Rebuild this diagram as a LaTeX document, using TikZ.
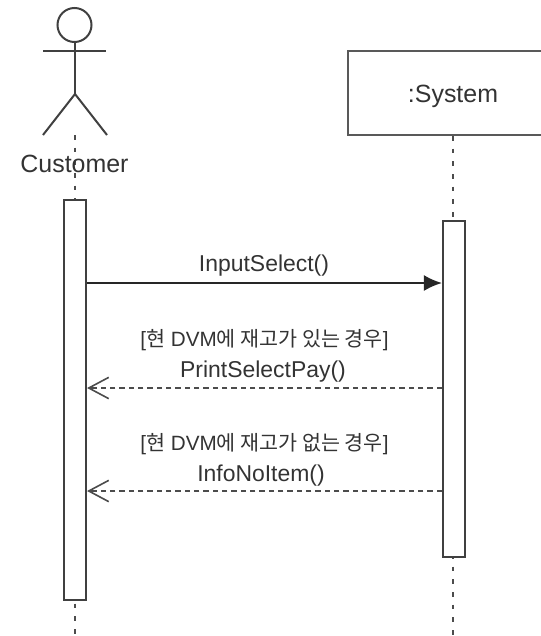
\documentclass[tikz,border=0pt]{standalone}
\usepackage{fontspec}
\setmainfont{Liberation Sans}
\newfontfamily\cjk{Noto Sans CJK KR}
\usetikzlibrary{arrows.meta}
\tikzset{
  lifeline/.style={line width=2pt,dash pattern=on 3.5pt off 6pt,black!70},
  activation/.style={draw=black!75,fill=white,line width=1.6pt,inner sep=0pt,anchor=north},
  namelabel/.style={font=\fontsize{18.7pt}{20pt}\selectfont,text=black!80},
  msglabel/.style={font=\fontsize{17.2pt}{19pt}\selectfont,text=black!80},
  guard/.style={font=\fontsize{15.5pt}{17pt}\selectfont,text=black!80},
  sync/.style={line width=1.5pt,black!85,-{Latex[length=13.5pt,width=12pt]}},
  reply/.style={line width=1.2pt,black!70,dash pattern=on 4pt off 3pt,-{Straight Barb[length=15pt,width=16pt]}}
}
\begin{document}
\begin{tikzpicture}[x=0.75pt,y=-0.75pt,line width=1.5pt,black!75]
\useasboundingbox (0,0) rectangle (541,636);
  % lifelines
  \coordinate (custtop) at (75,135);
  \coordinate (custend) at (75,636);
  \coordinate (systop) at (453,136);
  \coordinate (sysend) at (453,636);
  \draw[lifeline] (custtop) -- (custend);
  \draw[lifeline] (systop) -- (sysend);
  % actor
  \coordinate (head) at (74.5,25);
  \coordinate (neck) at (75,42);
  \coordinate (hip) at (75,94);
  \coordinate (armL) at (43,51);
  \coordinate (armR) at (106,51);
  \coordinate (footL) at (43,135);
  \coordinate (footR) at (107,135);
  \draw (head) circle (17);
  \draw (neck) -- (hip);
  \draw[line width=2pt] (armL) -- (armR);
  \draw (footL) -- (hip) -- (footR);
  \node[namelabel,inner sep=0pt] (customer) at (74.5,164) {Customer};
  % system box
  \node[namelabel,draw=black!65,fill=white,minimum width=157.5pt,minimum height=63pt,inner sep=0pt,
        text height=14pt,text depth=0pt,line width=2.2pt] (system) at (453,93) {:System};
  % activations
  \node[activation,minimum width=16.5pt,minimum height=300.5pt] (custbar) at (75,198.5) {};
  \node[activation,minimum width=16.5pt,minimum height=252.5pt] (sysbar) at (454,219.5) {};
  % messages
  \coordinate (m1a) at (custbar.east |- 0,283);
  \coordinate (m1b) at (sysbar.west |- 0,283);
  \coordinate (m2a) at (sysbar.west |- 0,388);
  \coordinate (m2b) at (custbar.east |- 0,388);
  \coordinate (m3a) at (sysbar.west |- 0,491);
  \coordinate (m3b) at (custbar.east |- 0,491);
  \draw[sync] (m1a) -- (m1b);
  \draw[reply] (m2a) -- (m2b);
  \draw[reply] (m3a) -- (m3b);
  \node[msglabel] (msg1) at (264,266) {InputSelect()};
  \node[guard] (guard2) at (264.5,340) {[{\cjk 현} DVM{\cjk 에 재고가 있는 경우}]};
  \node[msglabel] (msg2) at (263,372) {PrintSelectPay()};
  \node[guard] (guard3) at (264.5,444) {[{\cjk 현} DVM{\cjk 에 재고가 없는 경우}]};
  \node[msglabel] (msg3) at (261,476) {InfoNoItem()};
\end{tikzpicture}
\end{document}
